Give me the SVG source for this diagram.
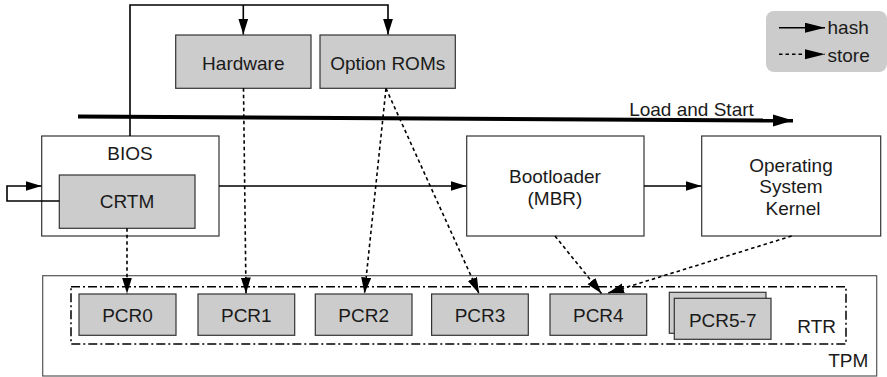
<svg xmlns="http://www.w3.org/2000/svg" width="887" height="377" viewBox="0 0 887 377">
  <style>
    text { font-family: "Liberation Sans", Arial, sans-serif; font-size: 19px; fill: #1a1a1a; }
    .mid { text-anchor: middle; }
    .end { text-anchor: end; }
    .box { fill: #ffffff; stroke: #333333; stroke-width: 1.2; }
    .grey { fill: #cccccc; stroke: #333333; stroke-width: 1.2; }
    .hash { fill: none; stroke: #000000; stroke-width: 1.6; }
    .store { fill: none; stroke: #000000; stroke-width: 1.6; stroke-dasharray: 3.5 3; }
    .rtr { fill: none; stroke: #000000; stroke-width: 1.5; stroke-dasharray: 9 3 2 3; }
  </style>
  <defs>
    <marker id="head" markerUnits="userSpaceOnUse" markerWidth="17" markerHeight="11" refX="16" refY="5" orient="auto">
      <path d="M0,0 L16,5 L0,10 z" fill="#000000"/>
    </marker>
    <marker id="keyhead" markerUnits="userSpaceOnUse" markerWidth="21" markerHeight="11" refX="20" refY="5" orient="auto">
      <path d="M0,0 L20,5 L0,10 z" fill="#000000"/>
    </marker>
    <marker id="bighead" markerUnits="userSpaceOnUse" markerWidth="21" markerHeight="13" refX="20" refY="6" orient="auto">
      <path d="M0,0 L20,6 L0,12 z" fill="#000000"/>
    </marker>
  </defs>

  <!-- legend -->
  <g id="legend">
    <rect x="766" y="11" width="121" height="61" rx="8" fill="#cccccc"/>
    <line x1="779" y1="27.7" x2="825" y2="27.7" class="hash" marker-end="url(#keyhead)"/>
    <line x1="779" y1="54.3" x2="825" y2="54.3" class="store" marker-end="url(#keyhead)"/>
    <text x="827.5" y="34.3">hash</text>
    <text x="827.5" y="61.7">store</text>
  </g>

  <!-- TPM container and RTR region -->
  <g id="tpm">
    <rect x="42.7" y="275.7" width="834" height="100.3" fill="#ffffff" stroke="#555555" stroke-width="1.2"/>
    <text x="868.3" y="366.7" class="end">TPM</text>
  </g>
  <g id="rtr">
    <rect x="71" y="286.7" width="775" height="57.3" class="rtr"/>
    <text x="836" y="333.3" class="end">RTR</text>
  </g>

  <!-- measured components -->
  <g id="hardware">
    <rect x="175.7" y="35" width="135.3" height="53.3" class="grey"/>
    <text x="243.3" y="69.5" class="mid">Hardware</text>
  </g>
  <g id="option-roms">
    <rect x="320" y="35" width="135.3" height="53.3" class="grey"/>
    <text x="387.7" y="69.5" class="mid">Option ROMs</text>
  </g>
  <g id="bios">
    <rect x="41.7" y="136" width="177.3" height="100" class="box"/>
    <text x="130" y="160" class="mid">BIOS</text>
  </g>
  <g id="crtm">
    <rect x="59.3" y="175" width="135.7" height="53.3" class="grey"/>
    <text x="127" y="208" class="mid">CRTM</text>
  </g>
  <g id="bootloader">
    <rect x="466.7" y="136" width="177.3" height="100" class="box"/>
    <text x="555" y="182.5" class="mid">Bootloader</text>
    <text x="555" y="205" class="mid">(MBR)</text>
  </g>
  <g id="os-kernel">
    <rect x="701.7" y="136" width="179" height="100" class="box"/>
    <text x="791" y="172" class="mid">Operating</text>
    <text x="791" y="193.3" class="mid">System</text>
    <text x="793" y="214.7" class="mid">Kernel</text>
  </g>

  <!-- platform configuration registers -->
  <g id="pcr0">
    <rect x="79" y="294" width="97" height="41.3" class="grey"/>
    <text x="127.5" y="321.5" class="mid">PCR0</text>
  </g>
  <g id="pcr1">
    <rect x="198" y="294" width="96.7" height="41.3" class="grey"/>
    <text x="246.3" y="321.5" class="mid">PCR1</text>
  </g>
  <g id="pcr2">
    <rect x="315.3" y="294" width="96.7" height="41.3" class="grey"/>
    <text x="363.7" y="321.5" class="mid">PCR2</text>
  </g>
  <g id="pcr3">
    <rect x="431.6" y="294" width="96.7" height="41.3" class="grey"/>
    <text x="480" y="321.5" class="mid">PCR3</text>
  </g>
  <g id="pcr4">
    <rect x="550" y="294" width="96.7" height="41.3" class="grey"/>
    <text x="598.3" y="321.5" class="mid">PCR4</text>
  </g>
  <g id="pcr5-7">
    <rect x="669.3" y="292.3" width="96.7" height="41" class="grey"/>
    <rect x="674.3" y="298.3" width="96.7" height="41" class="grey"/>
    <text x="722.7" y="327.3" class="mid">PCR5-7</text>
  </g>

  <!-- connectors -->
  <g id="connectors">
    <!-- load and start path -->
    <line x1="78" y1="116.6" x2="793" y2="120.6" stroke="#000000" stroke-width="4" marker-end="url(#bighead)"/>
    <text x="691.5" y="116" class="mid">Load and Start</text>

    <!-- BIOS hashes hardware and option ROMs -->
    <polyline points="130,136 130,5 388,5 388,34.5" class="hash" marker-end="url(#head)"/>
    <line x1="243.3" y1="5" x2="243.3" y2="34.5" class="hash" marker-end="url(#head)"/>

    <!-- CRTM self-measurement loop -->
    <polyline points="59.3,201 7,201 7,186 41.5,186" class="hash" marker-end="url(#head)"/>

    <!-- hash chain -->
    <line x1="219" y1="186" x2="466.5" y2="186" class="hash" marker-end="url(#head)"/>
    <line x1="644" y1="186" x2="701.5" y2="186" class="hash" marker-end="url(#head)"/>

    <!-- store into PCRs -->
    <line x1="127" y1="228.3" x2="127" y2="293.5" class="store" marker-end="url(#head)"/>
    <line x1="243.5" y1="88.3" x2="246" y2="293.5" class="store" marker-end="url(#head)"/>
    <line x1="386" y1="88.5" x2="364.5" y2="293.5" class="store" marker-end="url(#head)"/>
    <line x1="386" y1="88.5" x2="479" y2="293.5" class="store" marker-end="url(#head)"/>
    <line x1="555" y1="236" x2="601.5" y2="293.5" class="store" marker-end="url(#head)"/>
    <line x1="791.7" y1="236" x2="608" y2="293" class="store" marker-end="url(#head)"/>
  </g>
</svg>
